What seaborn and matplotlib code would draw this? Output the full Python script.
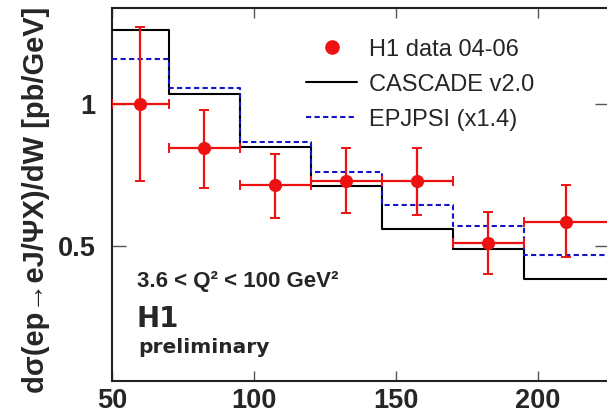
import matplotlib
matplotlib.use("Agg")
import matplotlib.pyplot as plt
from matplotlib.lines import Line2D
import numpy as np
import seaborn as sns

# ---- data ----
bin_edges = [50, 70, 95, 120, 145, 170, 195, 225]
cascade = [1.26, 1.035, 0.85, 0.71, 0.56, 0.49, 0.385]
epjpsi = [1.16, 1.055, 0.865, 0.76, 0.645, 0.57, 0.47]
data_x = [60, 82.5, 107.5, 132.5, 157.5, 182.5, 210]
data_y = [1.0, 0.845, 0.715, 0.73, 0.73, 0.51, 0.585]
data_up = [1.27, 0.98, 0.825, 0.845, 0.845, 0.62, 0.715]
data_down = [0.73, 0.705, 0.60, 0.615, 0.61, 0.40, 0.46]
x_ticks = [50, 100, 150, 200]
y_ticks = [0.5, 1.0]
y_tick_labels = ["0.5", "1"]

RED = "#ee1111"
BLUE = "#1414c8"

sns.set_style("white")
plt.rcParams["font.family"] = ["Liberation Sans", "DejaVu Sans"]

fig = plt.figure(figsize=(6.07, 4.15), dpi=100)
ax = fig.add_axes([112 / 607, (415 - 380.7) / 415, 497 / 607, (380.7 - 8) / 415])

edges_ext = bin_edges
cas_ext = cascade + [cascade[-1]]
epj_ext = epjpsi + [epjpsi[-1]]

sns.lineplot(x=edges_ext, y=cas_ext, ax=ax, color="black", linewidth=1.5,
             drawstyle="steps-post", estimator=None, sort=False, zorder=3)
sns.lineplot(x=edges_ext, y=epj_ext, ax=ax, color=BLUE, linewidth=1.5,
             drawstyle="steps-post", estimator=None, sort=False, zorder=3,
             dashes=False, linestyle=(0, (2.5, 1.6)))

lo = np.array(bin_edges[:-1])
hi = np.array(bin_edges[1:])
xc = np.array(data_x)
yv = np.array(data_y)
ax.errorbar(xc, yv, xerr=[xc - lo, hi - xc],
            yerr=[yv - np.array(data_down), np.array(data_up) - yv],
            fmt="none", ecolor=RED, elinewidth=1.6, capsize=3.5, capthick=1.4, zorder=4)
sns.scatterplot(x=data_x, y=data_y, ax=ax, color=RED, s=90, edgecolor=RED,
                linewidth=0, zorder=5)

ax.set_xlim(50, 225)
ax.set_ylim(0.026, 1.338)
ax.set_xticks(x_ticks)
ax.set_xticklabels([str(t) for t in x_ticks])
ax.set_yticks(y_ticks)
ax.set_yticklabels(y_tick_labels)
ax.tick_params(axis="x", which="major", direction="in", length=7, width=1.0,
               color="#555555", top=True, bottom=True, pad=5, labelsize=19.5)
ax.tick_params(axis="y", which="major", direction="in", length=10, width=1.0,
               color="#555555", left=True, right=True, pad=12, labelsize=19.5)
for lab in ax.get_xticklabels() + ax.get_yticklabels():
    lab.set_fontweight("bold")
for sp in ax.spines.values():
    sp.set_linewidth(1.5)
    sp.set_color("#222222")
    sp.set_visible(True)

ax.set_xlabel("")
ax.set_ylabel("dσ(ep→eJ/ΨX)/dW [pb/GeV]", fontsize=21, fontweight="bold")
ax.yaxis.set_label_coords(-0.124, 0.485)

ax.text(0.05, 0.251, "3.6 < Q² < 100 GeV²", transform=ax.transAxes,
        fontsize=16, fontweight="bold", va="baseline", ha="left")
ax.text(0.05, 0.144, "H1", transform=ax.transAxes, fontsize=20,
        fontweight="bold", va="baseline", ha="left", family="DejaVu Sans")
ax.text(0.052, 0.075, "preliminary", transform=ax.transAxes, fontsize=14.5,
        fontweight="bold", va="baseline", ha="left", family="DejaVu Sans")

handles = [
    Line2D([], [], marker="o", linestyle="none", color=RED, markersize=9.5),
    Line2D([], [], color="black", linewidth=1.5),
    Line2D([], [], color=BLUE, linewidth=1.5, linestyle=(0, (2.5, 1.6))),
]
labels = ["H1 data 04-06", "CASCADE v2.0", "EPJPSI (x1.4)"]
ax.legend(handles, labels, loc="upper left", bbox_to_anchor=(0.391, 0.918),
          frameon=False, fontsize=17, handlelength=2.16, handletextpad=0.5,
          labelspacing=0.55, borderpad=0, borderaxespad=0)

fig.savefig("out.png", dpi=100)
